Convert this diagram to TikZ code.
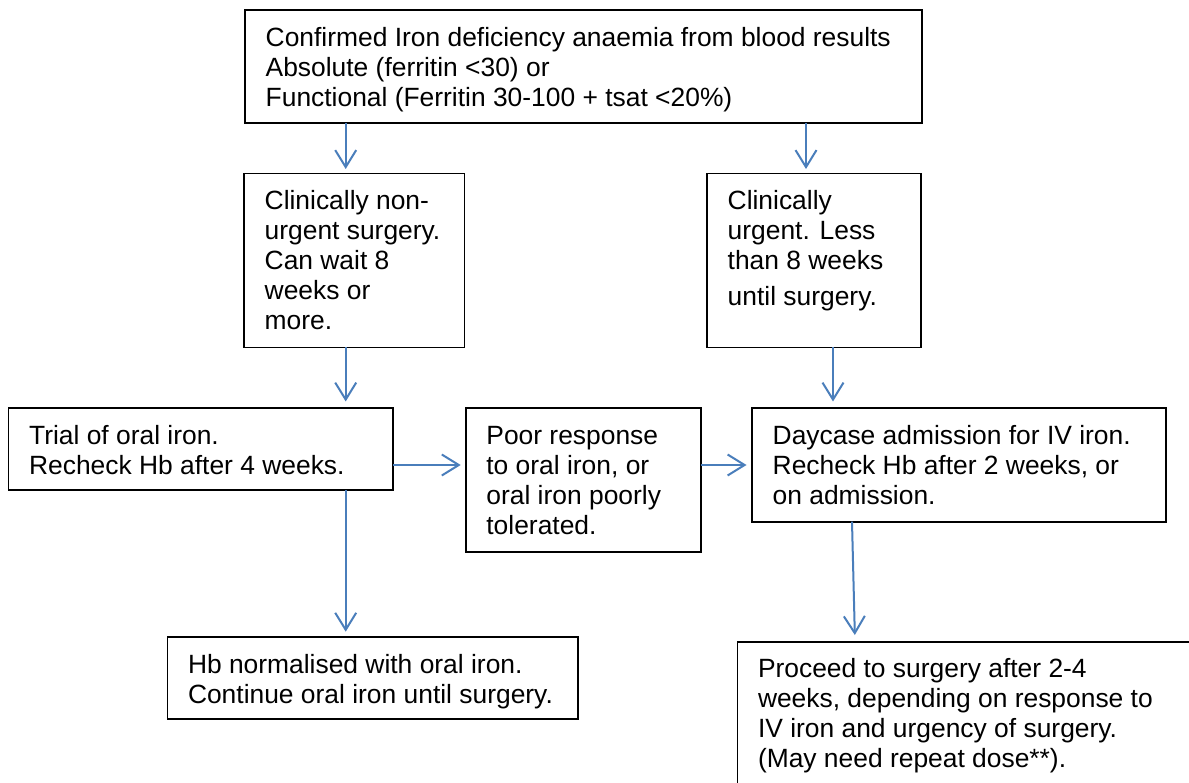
\documentclass[tikz,border=0pt]{standalone}
\usepackage{fontspec}
\setmainfont{Liberation Sans}
\usetikzlibrary{arrows.meta}
\definecolor{arrowblue}{HTML}{4A7EBB}
\begin{document}
\begin{tikzpicture}[x=1pt,y=-1pt,
  box/.style 2 args={draw=black, line width=1.6pt, anchor=north west, inner sep=0pt, outer sep=0pt, minimum width=#1, minimum height=#2},
  txt/.style={anchor=north west, inner sep=0pt, align=left, font=\fontsize{26.4}{30}\selectfont},
  arr/.style={draw=arrowblue, line width=2pt, -{Straight Barb[length=17pt,width=21pt]}}]
\useasboundingbox (0,0) rectangle (1189,783);
\fill[white] (0,0) rectangle (1189,783);
\clip (0,0) rectangle (1189,783);
% boxes
\node[box={676.7pt}{113pt}] (top) at (245,10) {};
\node[box={220.3pt}{174pt}] (lft) at (244,173.5) {};
\node[box={214pt}{174pt}] (rgt) at (707,173.5) {};
\node[box={384.6pt}{82pt}] (trial) at (8.4,408) {};
\node[box={235pt}{144pt}] (poor) at (465.7,408) {};
\node[box={414pt}{113.7pt}] (day) at (752,408) {};
\node[box={410.7pt}{82pt}] (hb) at (167.3,637) {};
\node[box={470pt}{150pt}] (proc) at (737.3,641.7) {};
% texts
\node[txt] (topT) at ([shift={(20.5,14)}]top.north west) {\rule{0pt}{22pt}Confirmed Iron deficiency anaemia from blood results\\Absolute (ferritin <30) or\\Functional (Ferritin 30-100 + tsat <20\%)};
\node[txt] (lftT) at ([shift={(20.5,14)}]lft.north west) {\rule{0pt}{22pt}Clinically non-\\urgent surgery.\\Can wait 8\\weeks or\\more.};
\node[txt] (rgtT) at ([shift={(20.5,14)}]rgt.north west) {\rule{0pt}{22pt}Clinically\\urgent. Less\\than 8 weeks\\[6pt]until surgery.};
\node[txt] (trialT) at ([shift={(20.5,14)}]trial.north west) {\rule{0pt}{22pt}Trial of oral iron.\\Recheck Hb after 4 weeks.};
\node[txt] (poorT) at ([shift={(20.5,14)}]poor.north west) {\rule{0pt}{22pt}Poor response\\to oral iron, or\\oral iron poorly\\tolerated.};
\node[txt] (dayT) at ([shift={(20.5,14)}]day.north west) {\rule{0pt}{22pt}Daycase admission for IV iron.\\Recheck Hb after 2 weeks, or\\on admission.};
\node[txt] (hbT) at ([shift={(20.5,14)}]hb.north west) {\rule{0pt}{22pt}Hb normalised with oral iron.\\Continue oral iron until surgery.};
\node[txt] (procT) at ([shift={(20.5,14)}]proc.north west) {\rule{0pt}{22pt}Proceed to surgery after 2-4\\weeks, depending on response to\\IV iron and urgency of surgery.\\(May need repeat dose**).};
% arrow guide coordinates
\coordinate (c1) at (345.7,0);
\coordinate (c2) at (806,0);
\coordinate (c3) at (833,0);
\coordinate (c4) at (852,0);
\coordinate (c5) at (855,0);
\coordinate (r1) at (0,465);
% arrows
\draw[arr, shorten >=4.5pt] (top.south -| c1) -- (lft.north -| c1);
\draw[arr, shorten >=4.5pt] (top.south -| c2) -- (rgt.north -| c2);
\draw[arr, shorten >=6.5pt] (lft.south -| c1) -- (trial.north -| c1);
\draw[arr, shorten >=6.5pt] (rgt.south -| c3) -- (day.north -| c3);
\draw[arr, shorten >=5pt] (trial.east |- r1) -- (poor.west |- r1);
\draw[arr, shorten >=5.5pt] (poor.east |- r1) -- (day.west |- r1);
\draw[arr, shorten >=5.3pt] (trial.south -| c1) -- (hb.north -| c1);
\draw[arr, shorten >=6.7pt] (day.south -| c4) -- (proc.north -| c5);
\end{tikzpicture}
\end{document}
